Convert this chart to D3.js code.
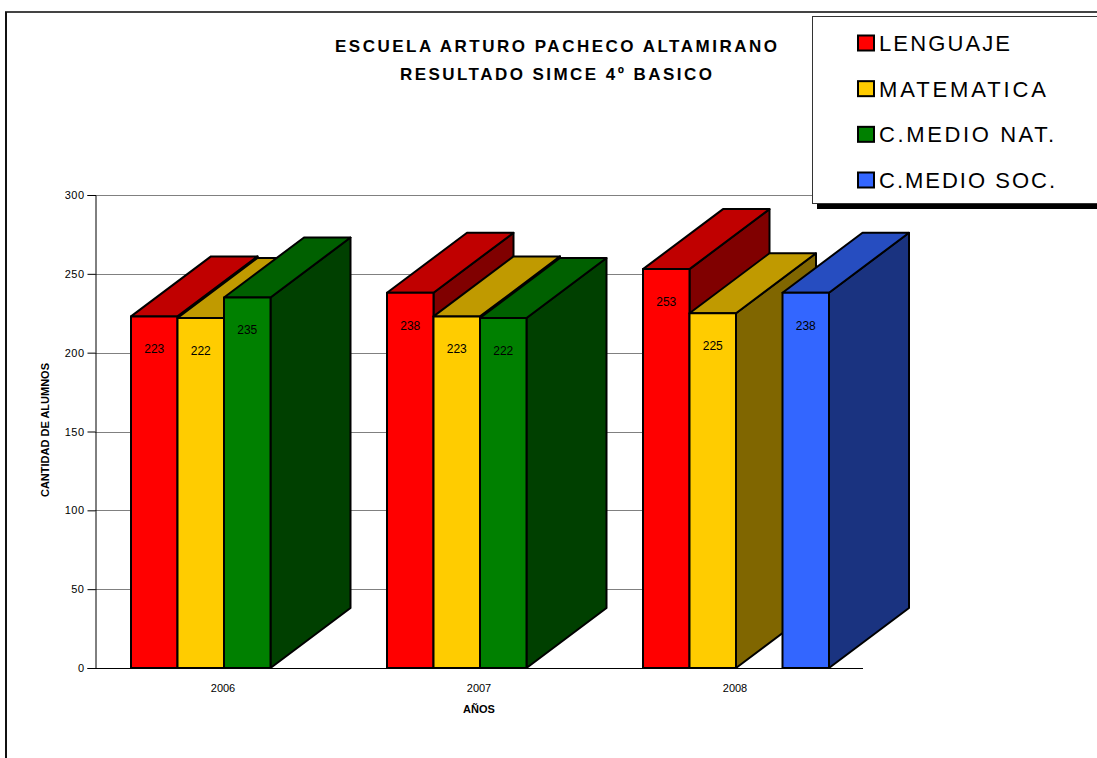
<!DOCTYPE html>
<html><head><meta charset="utf-8">
<script src="https://cdn.jsdelivr.net/npm/d3@7/dist/d3.min.js"></script>
<style>
html,body{margin:0;padding:0;background:#fff;}
svg{display:block;font-family:Arial,"Liberation Sans",sans-serif;}
</style></head>
<body>
<svg id="chart" width="1097" height="758"></svg>
<script>
// ---- data ----
const years = ["2006", "2007", "2008"];
const seriesNames = ["LENGUAJE", "MATEMATICA", "C.MEDIO NAT.", "C.MEDIO SOC."];
const lenguaje   = [223, 238, 253];
const matematica = [222, 223, 225];
const cMedioNat  = [235, 222, null];
const cMedioSoc  = [null, null, 238];
const yTicks = [0, 50, 100, 150, 200, 250, 300];
const titleLines = ["ESCUELA ARTURO PACHECO ALTAMIRANO", "RESULTADO SIMCE 4º BASICO"];

const seriesValues = [lenguaje, matematica, cMedioNat, cMedioSoc];
const colors = [
  {front:"#FF0000", top:"#C00000", side:"#800000"},
  {front:"#FFCC00", top:"#C09A00", side:"#806600"},
  {front:"#008000", top:"#006000", side:"#004000"},
  {front:"#3366FF", top:"#264DC0", side:"#1A3380"}
];

const svg = d3.select("#chart");
const pLeft = 95, pRight = 863, pTop = 195, pBottom = 668;
const dx = 80, dy = -60;

const y = d3.scaleLinear().domain([0, 300]).range([pBottom, pTop]);
const x0 = d3.scaleBand().domain(years).range([pLeft, pRight]).padding(0);
const x1 = d3.scaleBand().domain(seriesNames).range([36, 222]).padding(0);

// outer frame
svg.append("line").attr("x1", 5).attr("x2", 1097).attr("y1", 12).attr("y2", 12)
  .attr("stroke", "#444").attr("stroke-width", 2);
svg.append("line").attr("x1", 6).attr("x2", 6).attr("y1", 12).attr("y2", 758)
  .attr("stroke", "#111").attr("stroke-width", 2);

// gridlines
svg.append("g").selectAll("line").data(yTicks.filter(d => d > 0)).join("line")
  .attr("x1", pLeft).attr("x2", pRight)
  .attr("y1", d => Math.round(y(d)) + 0.5).attr("y2", d => Math.round(y(d)) + 0.5)
  .attr("stroke", "#808080").attr("stroke-width", 1);

// y axis
const yAxis = d3.axisLeft(y).tickValues(yTicks).tickSize(8).tickPadding(3);
const gy = svg.append("g").attr("transform", `translate(${pLeft + 0.5},0)`).attr("color", "#000").call(yAxis);
gy.selectAll(".tick text").attr("font-size", 11).attr("fill", "#000")
  .attr("font-family", "Arial, 'Liberation Sans', sans-serif").attr("letter-spacing", 0.5);

// baseline
svg.append("line").attr("x1", pLeft).attr("x2", pRight).attr("y1", pBottom + 0.5).attr("y2", pBottom + 0.5)
  .attr("stroke", "#000").attr("stroke-width", 1);

// x axis labels
const xAxis = d3.axisBottom(x0).tickSize(0).tickPadding(16);
const gx = svg.append("g").attr("transform", `translate(0,${pBottom})`).attr("color", "#000").call(xAxis);
gx.select(".domain").remove();
gx.selectAll(".tick text").attr("font-size", 11).attr("fill", "#000")
  .attr("font-family", "Arial, 'Liberation Sans', sans-serif");

// bars (3D)
const barsG = svg.append("g").attr("stroke", "#000").attr("stroke-width", 2).attr("stroke-linejoin", "round");
years.forEach((yr, gi) => {
  seriesNames.forEach((s, si) => {
    const v = seriesValues[si][gi];
    if (v == null) return;
    const xa = x0(yr) + x1(s), xb = xa + x1.bandwidth();
    const yt = y(v), yb = y(0);
    const c = colors[si];
    barsG.append("polygon")
      .attr("points", [[xb, yt], [xb + dx, yt + dy], [xb + dx, yb + dy], [xb, yb]].join(" "))
      .attr("fill", c.side);
    barsG.append("polygon")
      .attr("points", [[xa, yt], [xb, yt], [xb + dx, yt + dy], [xa + dx, yt + dy]].join(" "))
      .attr("fill", c.top);
    barsG.append("rect").attr("x", xa).attr("y", yt).attr("width", xb - xa).attr("height", yb - yt)
      .attr("fill", c.front);
    svg.append("text").attr("x", (xa + xb) / 2).attr("y", yt + 37)
      .attr("text-anchor", "middle").attr("font-size", 12).attr("fill", "#000")
      .text(v);
  });
});

// titles
svg.append("text").attr("x", 556).attr("y", 52).attr("text-anchor", "middle")
  .attr("font-size", 17).attr("font-weight", "bold").attr("textLength", 442).attr("lengthAdjust", "spacing")
  .text(titleLines[0]);
svg.append("text").attr("x", 556).attr("y", 80).attr("text-anchor", "middle")
  .attr("font-size", 17).attr("font-weight", "bold").attr("textLength", 312).attr("lengthAdjust", "spacing")
  .text(titleLines[1]);

// axis titles
svg.append("text").attr("transform", "translate(49,430) rotate(-90)").attr("text-anchor", "middle")
  .attr("font-size", 11).attr("font-weight", "bold").text("CANTIDAD DE ALUMNOS");
svg.append("text").attr("x", (pLeft + pRight) / 2).attr("y", 713).attr("text-anchor", "middle")
  .attr("font-size", 11).attr("font-weight", "bold").text("AÑOS");

// legend
const lg = svg.append("g");
lg.append("rect").attr("x", 817).attr("y", 203).attr("width", 290).attr("height", 6).attr("fill", "#000");
lg.append("rect").attr("x", 812.5).attr("y", 16.5).attr("width", 300).attr("height", 187)
  .attr("fill", "#fff").attr("stroke", "#333").attr("stroke-width", 1);
const legendLens = [131, 167, 175, 176];
const ly = d3.scalePoint().domain(seriesNames).range([43, 180]);
seriesNames.forEach((s, i) => {
  lg.append("rect").attr("x", 858).attr("y", ly(s) - 7.5).attr("width", 16).attr("height", 15)
    .attr("fill", colors[i].front).attr("stroke", "#000").attr("stroke-width", 2);
  lg.append("text").attr("x", 879).attr("y", ly(s) + 8).attr("font-size", 22).attr("fill", "#000")
    .attr("textLength", legendLens[i]).attr("lengthAdjust", "spacing").text(s);
});
</script>
</body></html>
